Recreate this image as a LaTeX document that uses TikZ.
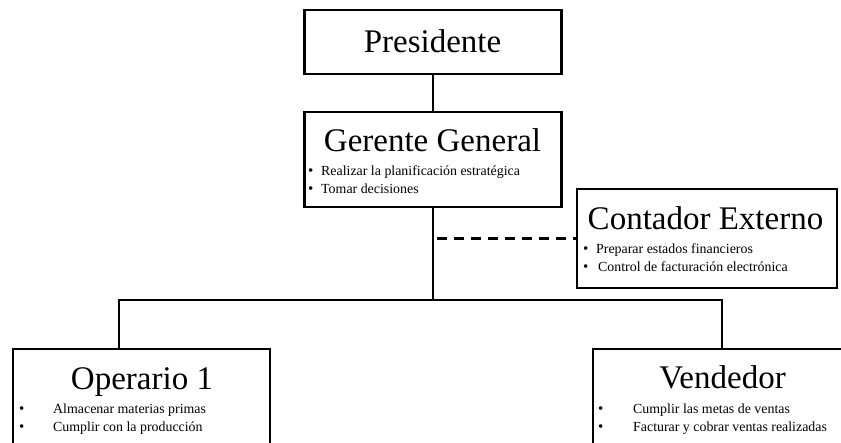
\documentclass[tikz,border=0pt]{standalone}
\usepackage{fontspec}
\setmainfont{Liberation Serif}
\begin{document}
\begin{tikzpicture}[x=1pt,y=-1pt,
  box/.style={draw,line width=2.6pt,inner sep=0pt},
  conn/.style={line width=1.9pt},
  title/.style={font=\fontsize{33}{38}\selectfont,inner sep=0pt,anchor=base},
  item/.style={font=\fontsize{13.9}{16}\selectfont,inner sep=0pt,anchor=base west},
  bul/.style={font=\fontsize{15}{16}\selectfont,inner sep=0pt,anchor=base west}]
\useasboundingbox (0,0) rectangle (841,443);
\clip (0,0) rectangle (841,443);
% boxes
\node[box,minimum width=257pt,minimum height=64pt] (pres) at (433,42) {};
\node[box,minimum width=257pt,minimum height=95pt] (ger) at (433,159.5) {};
\node[box,minimum width=260pt,minimum height=99pt] (cont) at (707,238.5) {};
\node[box,minimum width=257pt,minimum height=120pt] (op) at (141.5,409) {};
\node[box,minimum width=260pt,minimum height=120pt] (vd) at (723,409) {};
% titles
\node[title] (presT) at (432.5,53) {Presidente};
\node[title] (gerT) at (432.5,152) {Gerente General};
\node[title] (contT) at (705.5,230) {Contador Externo};
\node[title] (opT) at (142,390) {Operario 1};
\node[title] (vdT) at (722.5,389) {Vendedor};
% items
\node[bul] (gb1) at (308,176) {\textbullet};
\node[item] (gi1) at (321,176) {Realizar la planificación estratégica};
\node[bul] (gb2) at (308,194) {\textbullet};
\node[item] (gi2) at (321,194) {Tomar decisiones};
\node[bul] (cb1) at (583,254) {\textbullet};
\node[item] (ci1) at (596,254) {Preparar estados financieros};
\node[bul] (cb2) at (583,272) {\textbullet};
\node[item] (ci2) at (598,272) {Control de facturación electrónica};
\node[bul] (ob1) at (19,414) {\textbullet};
\node[item] (oi1) at (53,414) {Almacenar materias primas};
\node[bul] (ob2) at (19,432) {\textbullet};
\node[item] (oi2) at (53,432) {Cumplir con la producción};
\node[bul] (vb1) at (598,414) {\textbullet};
\node[item] (vi1) at (633,414) {Cumplir las metas de ventas};
\node[bul] (vb2) at (598,432) {\textbullet};
\node[item] (vi2) at (633,432) {Facturar y cobrar ventas realizadas};
% connectors
\coordinate (hub) at (433,300);
\draw[conn] (pres.south) -- (ger.north);
\draw[conn] (ger.south) -- (hub);
\draw[conn] (hub) -| ([xshift=107pt]op.north west);
\draw[conn] (hub) -| ([xshift=130pt]vd.north west);
\draw[conn,line width=2.2pt,dash pattern=on 10pt off 7pt,dash phase=-4pt] (ger.south |- cont.west) -- (cont.west);
\end{tikzpicture}
\end{document}
